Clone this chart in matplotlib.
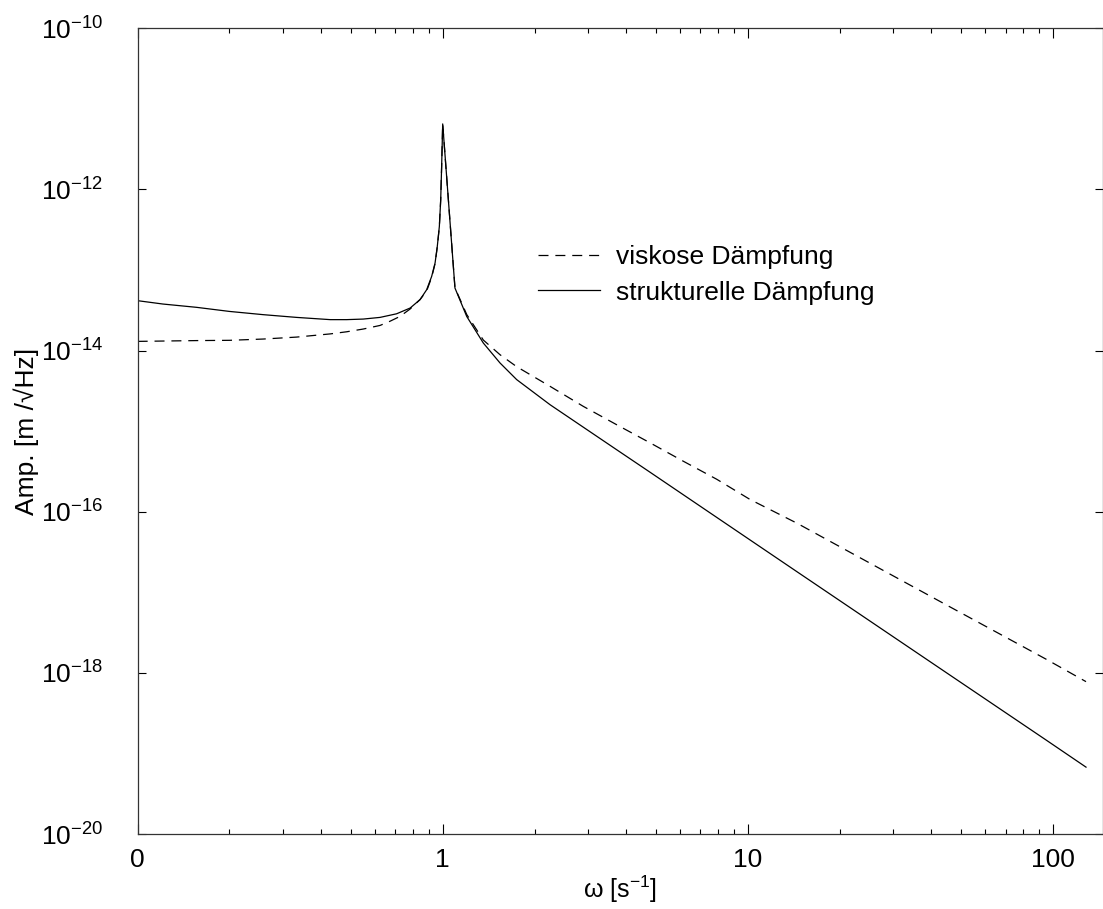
import numpy as np
import matplotlib
matplotlib.use('Agg')
import matplotlib.pyplot as plt
from matplotlib.ticker import FixedLocator, FixedFormatter, LogLocator, NullLocator, NullFormatter

plt.rcParams['font.family'] = ['Liberation Sans', 'DejaVu Sans']
plt.rcParams['mathtext.fontset'] = 'custom'
plt.rcParams['mathtext.rm'] = 'Liberation Sans'
plt.rcParams['mathtext.it'] = 'Liberation Sans'
plt.rcParams['mathtext.bf'] = 'Liberation Sans'

# strukturelle Daempfung (durchgezogen)
w_s = [0.1, 0.121, 0.156, 0.2, 0.258, 0.332, 0.428, 0.484, 0.549, 0.623, 0.706,
       0.782, 0.843, 0.886, 0.92, 0.944, 0.96, 0.975, 0.985, 0.992, 1.0, 1.097,
       1.199, 1.359, 1.541, 1.748, 2.248, 2.89, 3.72, 4.79, 7.91, 14.5, 21, 45,
       95, 128.5]
a_s = [4.16e-14, 3.78e-14, 3.44e-14, 3.06e-14, 2.79e-14, 2.58e-14, 2.42e-14,
       2.42e-14, 2.46e-14, 2.58e-14, 2.86e-14, 3.37e-14, 4.29e-14, 5.69e-14,
       8.32e-14, 1.22e-13, 1.96e-13, 3.47e-13, 7.43e-13, 1.92e-12, 6.50e-12,
       5.97e-14, 2.65e-14, 1.24e-14, 7.02e-15, 4.36e-15, 2.13e-15, 1.12e-15,
       5.87e-16, 3.08e-16, 8.51e-17, 1.80e-17, 6.98e-18, 9.93e-19, 1.47e-19,
       6.76e-20]

# viskose Daempfung (gestrichelt)
w_v = [0.1, 0.156, 0.2, 0.258, 0.332, 0.428, 0.484, 0.549, 0.623, 0.67, 0.724,
       0.782, 0.843, 0.886, 0.92, 0.944, 0.96, 0.975, 0.985, 0.992, 1.0, 1.097,
       1.199, 1.359, 1.541, 1.748, 2.248, 2.89, 3.72, 4.79, 6.15, 7.91, 10.17,
       14.5, 21, 45, 95, 128.5]
a_v = [1.30e-14, 1.33e-14, 1.34e-14, 1.39e-14, 1.47e-14, 1.61e-14, 1.71e-14,
       1.85e-14, 2.05e-14, 2.30e-14, 2.65e-14, 3.28e-14, 4.30e-14, 5.50e-14,
       8.10e-14, 1.20e-13, 1.93e-13, 3.43e-13, 7.40e-13, 1.92e-12, 6.50e-12,
       6.00e-14, 2.80e-14, 1.35e-14, 8.89e-15, 6.31e-15, 3.60e-15, 2.03e-15,
       1.20e-15, 7.14e-16, 4.23e-16, 2.53e-16, 1.42e-16, 7.20e-17, 3.34e-17,
       6.9e-18, 1.48e-18, 7.78e-19]

x_ticks = [0.1, 1, 10, 100]
x_labels = ['0', '1', '10', '100']
y_ticks = [1e-20, 1e-18, 1e-16, 1e-14, 1e-12, 1e-10]
y_labels = ['$10^{-20}$', '$10^{-18}$', '$10^{-16}$', '$10^{-14}$', '$10^{-12}$', '$10^{-10}$']

fig = plt.figure(figsize=(11.03, 9.09), dpi=100)
ax = fig.add_axes([0.1248, 0.0825, 0.8748, 0.8864])

ax.plot(w_v, a_v, color='black', lw=0.9, dashes=(8, 5.5), label='viskose Dämpfung')
ax.plot(w_s, a_s, color='black', lw=0.9, label='strukturelle Dämpfung')

ax.set_xscale('log')
ax.set_yscale('log')
ax.set_xlim(0.1, 145.6)
ax.set_ylim(1e-20, 1e-10)

ax.xaxis.set_major_locator(FixedLocator(x_ticks))
ax.xaxis.set_major_formatter(FixedFormatter(x_labels))
ax.xaxis.set_minor_locator(LogLocator(base=10, subs=np.arange(2, 10)))
ax.xaxis.set_minor_formatter(NullFormatter())
ax.yaxis.set_major_locator(FixedLocator(y_ticks))
ax.yaxis.set_major_formatter(FixedFormatter(y_labels))
ax.yaxis.set_minor_locator(NullLocator())

ax.tick_params(which='both', direction='in', top=True, right=True, labelsize=19, width=0.8)
ax.tick_params(which='major', length=7)
ax.tick_params(which='minor', length=3.5)
ax.tick_params(axis='y', which='major', length=6)
ax.tick_params(axis='x', pad=10)
ax.tick_params(axis='y', pad=25)
for s in ax.spines.values():
    s.set_linewidth(0.9)
    s.set_color('#333333')

ax.set_xlabel('ω [s$^{-1}$]', fontsize=18, labelpad=1)
ax.set_ylabel('Amp. [m /√Hz]', fontsize=19, labelpad=1)

ax.legend(loc='upper left', bbox_to_anchor=(0.4878, 0.730), frameon=False, fontsize=19,
          handlelength=2.35, handletextpad=0.6, labelspacing=0.42, borderpad=0,
          borderaxespad=0, bbox_transform=fig.transFigure)

fig.savefig('out.png', dpi=100)
